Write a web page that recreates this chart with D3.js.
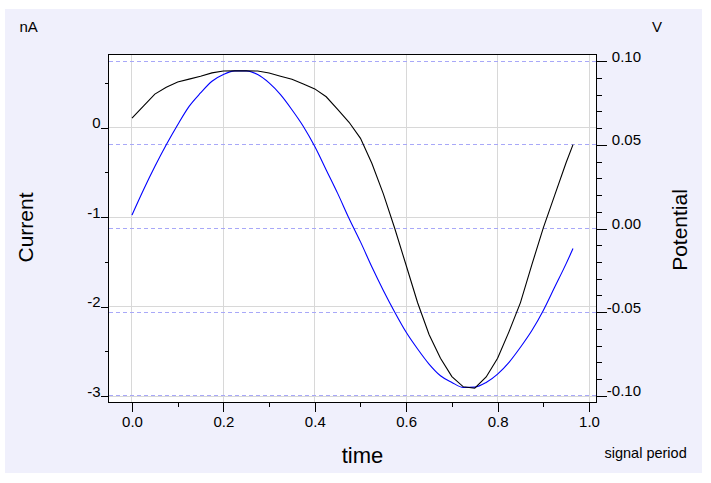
<!DOCTYPE html>
<html lang="en">
<head>
    <meta charset="UTF-8">
    <title>current and potential</title>
    <script src="https://cdn.jsdelivr.net/npm/d3@7/dist/d3.min.js"></script>
    <style>
        body {
            margin: 0;
            background: #fff;
        }

        svg {
            display: block;
            font-family: Arial, 'Liberation Sans', sans-serif;
        }

        svg .panel {
            fill: #f0f0fc;
        }

        svg .plot-bg {
            fill: #fff;
        }

        svg .frame {
            fill: none;
            stroke: #000;
            shape-rendering: crispEdges;
        }

        svg .grid-line {
            stroke: #d8d8d8;
            shape-rendering: crispEdges;
        }

        svg .dash-line {
            stroke: #a8a8f8;
            stroke-dasharray: 4, 3;
            shape-rendering: crispEdges;
        }

        svg .axis {
            font-family: Arial, 'Liberation Sans', sans-serif;
        }

        svg .axis path {
            display: none;
        }

        svg .axis line {
            stroke: #000;
            shape-rendering: crispEdges;
        }

        svg .axis text {
            font-size: 15px;
            fill: #000;
        }

        svg .current-line {
            fill: none;
            stroke: #000;
            stroke-width: 1.1px;
        }

        svg .potential-line {
            fill: none;
            stroke: #0000ff;
            stroke-width: 1.1px;
        }

        svg .title {
            font-size: 21px;
        }

        svg .unit {
            font-size: 15px;
        }
    </style>
</head>
<body>
    <svg width="711" height="483"></svg>
    <script>
        // sample times (signal period) and the two traces
        var time = [0, 0.025, 0.05, 0.075, 0.1, 0.125, 0.15, 0.175, 0.2, 0.225,
                    0.25, 0.275, 0.3, 0.325, 0.35, 0.375, 0.4, 0.425, 0.45, 0.475,
                    0.5, 0.525, 0.55, 0.575, 0.6, 0.625, 0.65, 0.675, 0.7, 0.725,
                    0.75, 0.775, 0.8, 0.825, 0.85, 0.875, 0.9, 0.925, 0.95, 0.965];

        // nA
        var current = [0.107, 0.241, 0.375, 0.452, 0.510, 0.542, 0.575, 0.612, 0.632, 0.634,
                       0.634, 0.632, 0.610, 0.575, 0.540, 0.488, 0.433, 0.345, 0.205, 0.060,
                       -0.120, -0.400, -0.740, -1.127, -1.540, -1.956, -2.310, -2.575, -2.780, -2.895,
                       -2.910, -2.785, -2.575, -2.278, -1.954, -1.530, -1.120, -0.754, -0.390, -0.190];

        // V
        var potential = [0.008, 0.023, 0.037, 0.050, 0.062, 0.073, 0.081, 0.088, 0.092, 0.0942,
                         0.0942, 0.092, 0.087, 0.080, 0.071, 0.061, 0.049, 0.035, 0.021, 0.006,
                         -0.008, -0.023, -0.037, -0.050, -0.062, -0.072, -0.081, -0.088, -0.092, -0.0950,
                         -0.0948, -0.092, -0.087, -0.080, -0.071, -0.061, -0.049, -0.035, -0.021, -0.012];

        var xMajor = [0, 0.2, 0.4, 0.6, 0.8, 1.0],
            xMinor = [0.1, 0.3, 0.5, 0.7, 0.9],
            currentMajor = [0, -1, -2, -3],
            currentMinor = [0.5, -0.5, -1.5, -2.5],
            potentialMajor = [0.10, 0.05, 0, -0.05, -0.10],
            potentialMinor = [0.09, 0.08, 0.07, 0.06, 0.04, 0.03, 0.02, 0.01,
                              -0.01, -0.02, -0.03, -0.04, -0.06, -0.07, -0.08, -0.09];

        var svg = d3.select('svg'),
            plotLeft = 108.5,
            plotRight = 596.5,
            plotTop = 54.5,
            plotBottom = 402.5,

            x = d3.scaleLinear()
                    .domain([-0.0514, 1.0164])
                    .range([plotLeft, plotRight]),

            yCur = d3.scaleLinear()
                    .domain([-3.07, 0.817])
                    .range([plotBottom, plotTop]),

            yPot = d3.scaleLinear()
                    .domain([-0.104, 0.104])
                    .range([plotBottom, plotTop]);

        svg.append('rect')
            .classed('panel', true)
            .attr('x', 5)
            .attr('y', 9)
            .attr('width', 697)
            .attr('height', 464);

        svg.append('rect')
            .classed('plot-bg', true)
            .attr('x', plotLeft)
            .attr('y', plotTop)
            .attr('width', plotRight - plotLeft)
            .attr('height', plotBottom - plotTop);

        // grid
        svg.selectAll('.grid-x')
            .data(xMajor)
            .enter().append('line')
            .attr('class', 'grid-line grid-x')
            .attr('x1', function(d) { return x(d); })
            .attr('x2', function(d) { return x(d); })
            .attr('y1', plotTop)
            .attr('y2', plotBottom);

        svg.selectAll('.grid-y')
            .data(currentMajor)
            .enter().append('line')
            .attr('class', 'grid-line grid-y')
            .attr('x1', plotLeft)
            .attr('x2', plotRight)
            .attr('y1', function(d) { return yCur(d); })
            .attr('y2', function(d) { return yCur(d); });

        svg.selectAll('.dash-line')
            .data(potentialMajor)
            .enter().append('line')
            .classed('dash-line', true)
            .attr('x1', plotLeft)
            .attr('x2', plotRight)
            .attr('y1', function(d) { return yPot(d); })
            .attr('y2', function(d) { return yPot(d); });

        // traces
        var currentLine = d3.line()
                .x(function(d, i) { return x(time[i]); })
                .y(function(d) { return yCur(d); }),

            potentialLine = d3.line()
                .curve(d3.curveMonotoneX)
                .x(function(d, i) { return x(time[i]); })
                .y(function(d) { return yPot(d); });

        svg.append('path')
            .classed('potential-line', true)
            .attr('d', potentialLine(potential));

        svg.append('path')
            .classed('current-line', true)
            .attr('d', currentLine(current));

        svg.append('rect')
            .classed('frame', true)
            .attr('x', plotLeft)
            .attr('y', plotTop)
            .attr('width', plotRight - plotLeft)
            .attr('height', plotBottom - plotTop);

        // axes
        var xAxis = svg.append('g')
            .classed('axis', true)
            .attr('transform', 'translate(0,' + plotBottom + ')')
            .call(d3.axisBottom(x)
                .tickValues(xMajor)
                .tickSize(9)
                .tickFormat(function(d) { return d.toFixed(1); }));
        xAxis.selectAll('text')
            .attr('y', 24)
            .attr('dy', 0);

        svg.append('g')
            .classed('axis', true)
            .attr('transform', 'translate(0,' + plotBottom + ')')
            .call(d3.axisBottom(x)
                .tickValues(xMinor)
                .tickSize(4)
                .tickFormat(''));

        var curAxis = svg.append('g')
            .classed('axis', true)
            .attr('transform', 'translate(' + plotLeft + ',0)')
            .call(d3.axisLeft(yCur)
                .tickValues(currentMajor)
                .tickSize(8)
                .tickPadding(0)
                .tickFormat(function(d) { return String(d); }));
        curAxis.selectAll('text')
            .attr('dy', 0);

        svg.append('g')
            .classed('axis', true)
            .attr('transform', 'translate(' + plotLeft + ',0)')
            .call(d3.axisLeft(yCur)
                .tickValues(currentMinor)
                .tickSize(4)
                .tickFormat(''));

        var potAxis = svg.append('g')
            .classed('axis', true)
            .attr('transform', 'translate(' + plotRight + ',0)')
            .call(d3.axisRight(yPot)
                .tickValues(potentialMajor)
                .tickSize(10)
                .tickFormat(function(d) { return d.toFixed(2); }));
        potAxis.selectAll('text')
            .attr('text-anchor', 'end')
            .attr('x', 44.5)
            .attr('dy', 0);

        svg.append('g')
            .classed('axis', true)
            .attr('transform', 'translate(' + plotRight + ',0)')
            .call(d3.axisRight(yPot)
                .tickValues(potentialMinor)
                .tickSize(5)
                .tickFormat(''));

        // titles and units
        svg.append('text')
            .classed('unit', true)
            .attr('x', 19.5)
            .attr('y', 32)
            .text('nA');

        svg.append('text')
            .classed('unit', true)
            .attr('x', 652)
            .attr('y', 32)
            .text('V');

        svg.append('text')
            .classed('title', true)
            .attr('text-anchor', 'middle')
            .attr('transform', 'translate(32.5,227.5) rotate(-90)')
            .text('Current');

        svg.append('text')
            .classed('title', true)
            .attr('text-anchor', 'middle')
            .attr('transform', 'translate(687,230) rotate(-90)')
            .text('Potential');

        svg.append('text')
            .classed('title', true)
            .attr('text-anchor', 'middle')
            .attr('x', 362.5)
            .attr('y', 462.5)
            .style('font-size', '22px')
            .text('time');

        svg.append('text')
            .classed('unit', true)
            .attr('x', 604.5)
            .attr('y', 458)
            .style('font-size', '14.5px')
            .text('signal period');
    </script>
</body>
</html>
